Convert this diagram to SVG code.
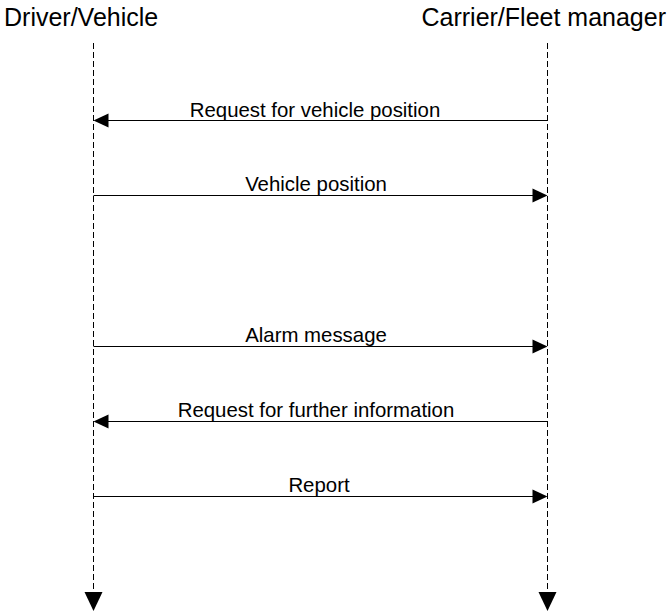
<svg xmlns="http://www.w3.org/2000/svg" width="667" height="612" viewBox="0 0 667 612">
<defs>
<style>
.hdr{font-family:"Liberation Sans",Arial,sans-serif;font-size:25px;fill:#000}
.lbl{font-family:"Liberation Sans",Arial,sans-serif;font-size:20.4px;fill:#000;text-anchor:middle}
.life{stroke:#000;stroke-width:1;stroke-dasharray:6 3;fill:none}
.msg{stroke:#000;stroke-width:1;fill:none}
.head{fill:#000;stroke:none}
</style>
</defs>
<rect width="667" height="612" fill="#fff"/>
<g id="driver">
<text class="hdr" x="4" y="26">Driver/Vehicle</text>
<line class="life" x1="93.5" y1="43" x2="93.5" y2="594"/>
<polygon class="head" points="84.5,592 102.5,592 93.5,611"/>
</g>
<g id="carrier">
<text class="hdr" x="666" y="26" text-anchor="end">Carrier/Fleet manager</text>
<line class="life" x1="547.5" y1="43" x2="547.5" y2="594"/>
<polygon class="head" points="538.5,592 556.5,592 547.5,611"/>
</g>
<g id="connectors">
<g id="m1">
<line class="msg" x1="547.5" y1="120.5" x2="105" y2="120.5"/>
<polygon class="head" points="93.5,120.5 108.5,113.5 108.5,127.5"/>
<text class="lbl" x="315" y="117">Request for vehicle position</text>
</g>
<g id="m2">
<line class="msg" x1="93.5" y1="195.5" x2="536" y2="195.5"/>
<polygon class="head" points="547.5,195.5 532.5,188.5 532.5,202.5"/>
<text class="lbl" x="316" y="191">Vehicle position</text>
</g>
<g id="m3">
<line class="msg" x1="93.5" y1="346.5" x2="536" y2="346.5"/>
<polygon class="head" points="547.5,346.5 532.5,339.5 532.5,353.5"/>
<text class="lbl" x="316" y="342">Alarm message</text>
</g>
<g id="m4">
<line class="msg" x1="547.5" y1="421.5" x2="105" y2="421.5"/>
<polygon class="head" points="93.5,421.5 108.5,414.5 108.5,428.5"/>
<text class="lbl" x="316" y="417">Request for further information</text>
</g>
<g id="m5">
<line class="msg" x1="93.5" y1="496.5" x2="536" y2="496.5"/>
<polygon class="head" points="547.5,496.5 532.5,489.5 532.5,503.5"/>
<text class="lbl" x="319" y="492">Report</text>
</g>
</g>
</svg>
